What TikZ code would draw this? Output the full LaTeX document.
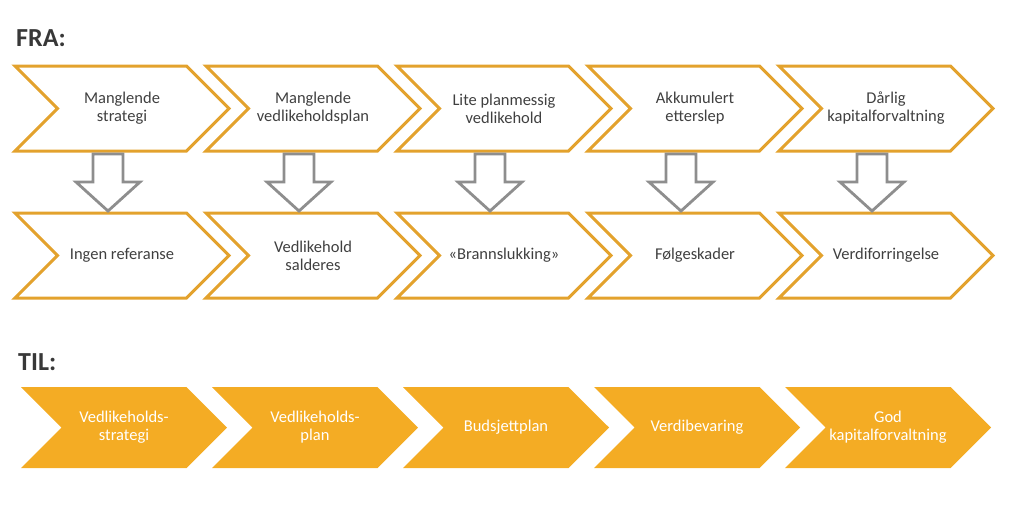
\documentclass[tikz,border=0pt]{standalone}
\usepackage{fontspec}
\setmainfont{Carlito}
\usetikzlibrary{positioning,calc,shapes.symbols}
\definecolor{fraline}{HTML}{E3A22D}
\definecolor{tilfill}{HTML}{F4AC24}
\definecolor{pilgraa}{HTML}{8E8E8E}
\definecolor{tekst}{HTML}{404040}
\definecolor{overskrift}{HTML}{383838}
\tikzset{
  chevron/.style={signal,signal to=east,signal from=west,signal pointer angle=90,inner sep=0pt,outer sep=0pt,align=center,font=\fontsize{16.5}{18}\selectfont},
  fra/.style={chevron,draw=fraline,line width=3pt,fill=white,minimum width=214pt,minimum height=85pt,text=tekst},
  til/.style={chevron,fill=tilfill,minimum width=206pt,minimum height=81pt,text=white},
  blokkpil/.style={draw=pilgraa,line width=2.8pt,fill=white,line join=miter},
  overskrift/.style={font=\fontsize{26}{30}\selectfont\bfseries,text=overskrift,anchor=west,inner sep=0pt},
}
\begin{document}
\begin{tikzpicture}[x=1pt,y=-1pt]
  \useasboundingbox (0,0) rectangle (1024,504);
  \node[overskrift] (fra) at (16,38.5) {FRA:};
  \node[overskrift] (til) at (18,362.5) {TIL:};
  % dagens situasjon
  \foreach \a [count=\i from 0] in {{Manglende\\strategi},{Manglende\\vedlikeholdsplan},{Lite planmessig\\vedlikehold},{Akkumulert\\etterslep},{Dårlig\\kapitalforvaltning}}
    \node[fra] (f\i) at (122+191*\i,108.5) {\a};
  \foreach \a [count=\i from 0] in {Ingen referanse,{Vedlikehold\\salderes},«Brannslukking»,Følgeskader,Verdiforringelse}
    \node[fra] (k\i) at (122+191*\i,255.5) {\a};
  % ønsket situasjon
  \foreach \a [count=\i from 0] in {{Vedlikeholds-\\strategi},{Vedlikeholds-\\plan},Budsjettplan,Verdibevaring,{God\\kapitalforvaltning}}
    \node[til] (t\i) at (124+191*\i,427.5) {\a};
  % piler mellom radene
  \foreach \i in {0,...,4}
    \draw[blokkpil] ($(f\i.south)+(-29,3)$) -- ++(0,28) -- ++(-17,0)
      -- ($(k\i.north)+(-14,-2)$) -- ($(f\i.south)+(18,31)$) -- ++(-17,0) -- ++(0,-28) -- cycle;
\end{tikzpicture}
\end{document}
